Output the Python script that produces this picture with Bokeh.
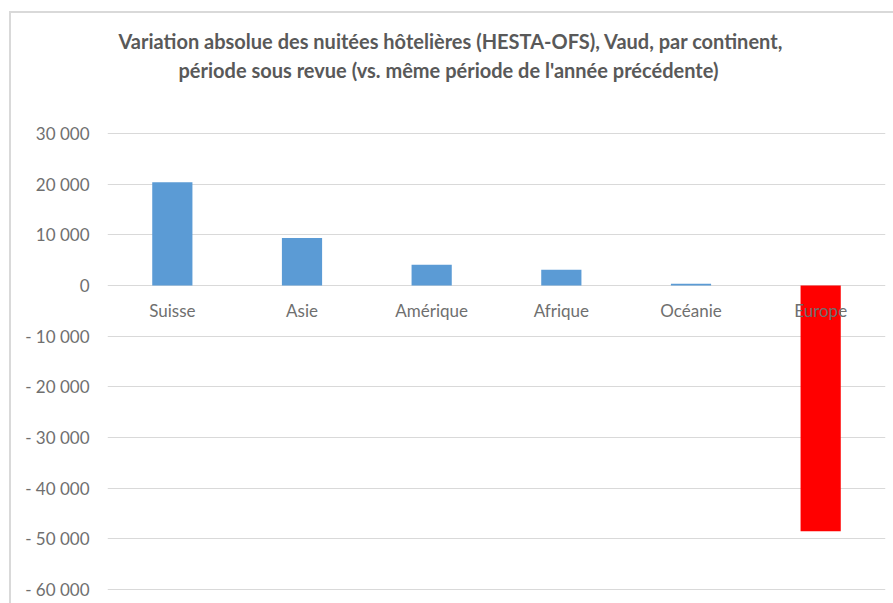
from bokeh.plotting import figure
from bokeh.models import (ColumnDataSource, FactorRange, Range1d, FixedTicker, Title)
from bokeh.core.properties import value
from bokeh.embed import file_html
from bokeh.resources import INLINE

# ---- data ----
categories = ["Suisse", "Asie", "Amérique", "Afrique", "Océanie", "Europe"]
variations = [20400, 9400, 4100, 3100, 350, -48500]
y_ticks = [30000, 20000, 10000, 0, -10000, -20000, -30000, -40000, -50000, -60000]
y_tick_labels = ["30 000", "20 000", "10 000", "0", "- 10 000", "- 20 000",
                 "- 30 000", "- 40 000", "- 50 000", "- 60 000"]
title_line1 = "Variation absolue des nuitées hôtelières (HESTA-OFS), Vaud, par continent,"
title_line2 = "période sous revue (vs. même période de l'année précédente)"

POS_COLOR = "#5B9BD5"
NEG_COLOR = "#FF0000"
colors = [POS_COLOR if v >= 0 else NEG_COLOR for v in variations]

FONT = "Lato"
TITLE_GRAY = "#595959"
LABEL_GRAY = "#6F6F6F"

src = ColumnDataSource(dict(cat=categories, val=variations, color=colors,
                            zero=[0] * len(categories)))

pad = 400  # small pad so that the end gridlines are drawn
p = figure(width=884, height=592, output_backend="svg", toolbar_location=None,
           x_range=FactorRange(*categories, range_padding=0),
           y_range=Range1d(y_ticks[-1] - pad, y_ticks[0] + pad),
           x_axis_location=None,
           min_border_left=96, min_border_right=10, min_border_bottom=14,
           min_border_top=118, title=None)
p.margin = (11, 0, 0, 9)
p.styles = {"border-left": "2px solid #D9D9D9", "border-top": "2px solid #D9D9D9"}
p.outline_line_color = None
p.background_fill_color = "white"
p.border_fill_color = "white"

title_style = dict(text_font=FONT, text_font_size="20px", text_font_style="bold",
                   text_color=TITLE_GRAY, align="left")
# spacer between the frame and the title
p.add_layout(Title(text=" ", standoff=22, **title_style), "above")
p.add_layout(Title(text=title_line2, standoff=3, offset=71, **title_style), "above")
p.add_layout(Title(text=title_line1, standoff=3, offset=11, **title_style), "above")

p.vbar(x="cat", top="val", bottom="zero", width=0.31, color="color",
       line_color=None, source=src)

p.text(x="cat", y="zero", text="cat", source=src, text_align="center",
       text_baseline="middle", y_offset=25, text_font=value(FONT),
       text_font_size="17px", text_color=LABEL_GRAY)

p.xgrid.visible = False
p.ygrid.grid_line_color = "#D9D9D9"
p.ygrid.grid_line_width = 1
p.ygrid.ticker = FixedTicker(ticks=y_ticks)

ax = p.yaxis[0]
ax.ticker = FixedTicker(ticks=y_ticks)
ax.major_label_overrides = {t: l for t, l in zip(y_ticks, y_tick_labels)}
ax.axis_line_color = None
ax.major_tick_line_color = None
ax.minor_tick_line_color = None
ax.major_label_standoff = 12
ax.major_label_text_font = FONT
ax.major_label_text_font_size = "17px"
ax.major_label_text_color = LABEL_GRAY

open("out.html", "w").write(file_html(p, INLINE))
